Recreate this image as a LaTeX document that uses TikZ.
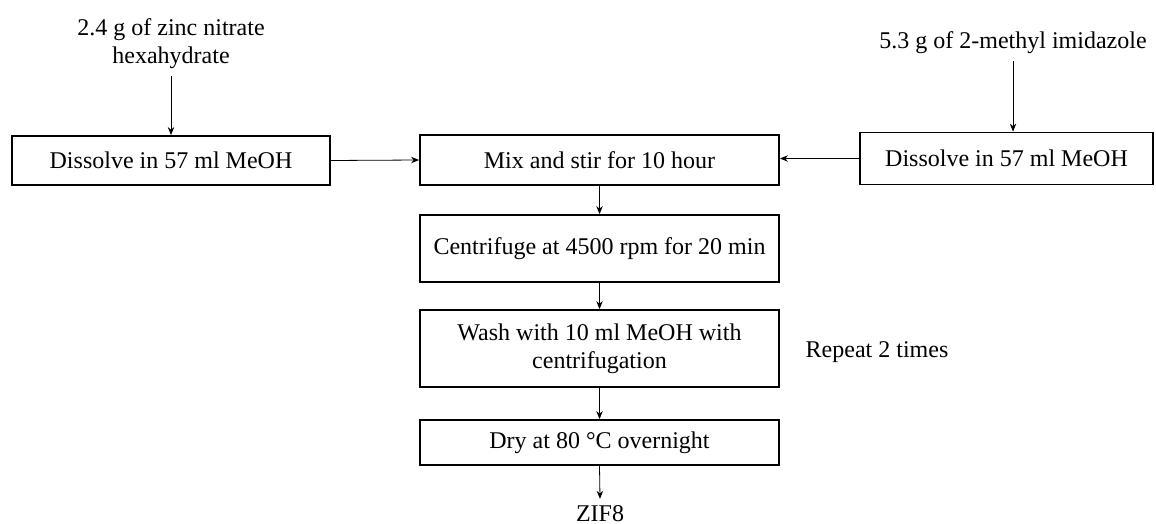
\documentclass[tikz,border=0pt]{standalone}
\usepackage{fontspec}
\setmainfont{Liberation Serif}
\usetikzlibrary{arrows.meta}

\begin{document}
\begin{tikzpicture}[x=0.5pt, y=-0.5pt, >={Stealth[length=4pt, width=3.2pt]},
    every node/.style={font=\fontsize{12}{14}\selectfont},
    stepbox/.style={draw, line width=0.9pt, align=center, inner sep=2pt, minimum width=179.5pt}]
  \useasboundingbox (0,0) rectangle (1156,524);
  % inputs
  \node[align=center] (zinc) at (171,44) {2.4 g of zinc nitrate\\hexahydrate};
  \node (imid) at (1013,43) {5.3 g of 2-methyl imidazole};
  \node[stepbox, minimum width=159pt, minimum height=24.5pt] (dissA) at (171,160.5) {Dissolve in 57 ml MeOH};
  \node[stepbox, minimum width=146.5pt, minimum height=26pt] (dissB) at (1006.5,158.5) {Dissolve in 57 ml MeOH};
  % main line
  \node[stepbox, minimum height=25pt] (mix) at (599.5,160) {Mix and stir for 10 hour};
  \node[stepbox, minimum height=33.5pt] (cent) at (599.5,248.5) {Centrifuge at 4500 rpm for 20 min};
  \node[stepbox, minimum height=38.5pt] (wash) at (599.5,348.5) {Wash with 10 ml MeOH with\\centrifugation};
  \node[stepbox, minimum height=22.5pt] (dry) at (599.5,442.5) {Dry at 80 °C overnight};
  \node (zif) at (600,514) {ZIF8};
  \node (repeat) at (877,352) {Repeat 2 times};
  % connectors
  \draw[->] (zinc.south) -- (dissA.north);
  \draw[->] (imid.south) -- (imid.south |- dissB.north);
  \draw[->] (dissA.east) -- (mix.west);
  \draw[->] (dissB.west) -- (dissB.west -| mix.east);
  \draw[->] (mix.south) -- (cent.north);
  \draw[->] (cent.south) -- (wash.north);
  \draw[->] (wash.south) -- (dry.north);
  \draw[->] (dry.south) -- (zif.north);
\end{tikzpicture}
\end{document}
